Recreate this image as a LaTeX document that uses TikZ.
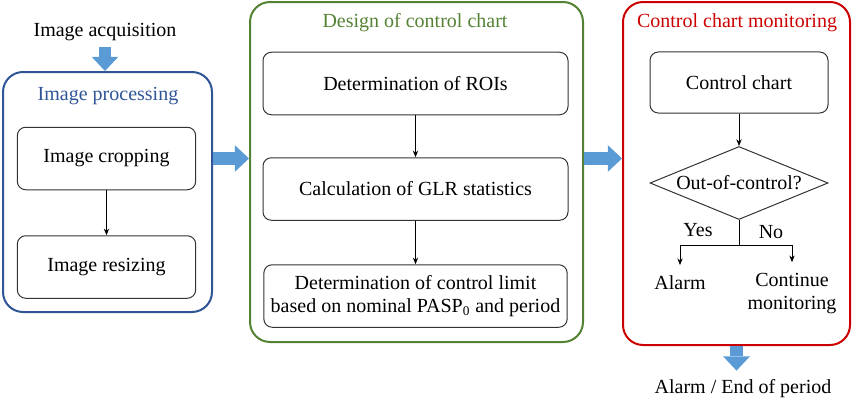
\documentclass[tikz,border=0pt]{standalone}
\usepackage{fontspec}
\setmainfont{Liberation Serif}
\usetikzlibrary{positioning,arrows.meta,shapes.geometric}

\definecolor{procblue}{RGB}{47,85,151}
\definecolor{designgreen}{RGB}{84,130,53}
\definecolor{monred}{RGB}{204,0,0}
\definecolor{fatblue}{RGB}{91,155,213}

\begin{document}
\begin{tikzpicture}[
    x=0.6pt, y=-0.6pt,
    every node/.style={font=\fontsize{12}{14}\selectfont, align=center},
    frame/.style={draw, line width=1.2pt, rounded corners=12pt, inner sep=0pt},
    stepbox/.style={draw=black!80, line width=0.6pt, rounded corners=5pt, minimum height=37.5pt},
    decision/.style={diamond, draw=black!80, line width=0.6pt, aspect=2.4, inner sep=1pt,
        minimum width=106.8pt, minimum height=43.8pt},
    flow/.style={line width=0.6pt, -{Stealth[length=4pt,width=3.2pt]}},
    fat/.style={draw=fatblue, line width=7.6pt, -{Triangle[length=8.5pt,width=16pt,line width=0pt]}}
]
\useasboundingbox (0,0) rectangle (853,402);

% Image acquisition
\node (acq) at (105,32) {Image acquisition};

% Image processing
\node[frame, draw=procblue, minimum width=125.4pt, minimum height=144pt] (proc) at (107.5,192) {};
\node[text=procblue] (proctitle) at (108,96) {Image processing};
\node[stepbox, minimum width=107pt] (crop) at (106.5,158.5) {Image cropping};
\node[stepbox, minimum width=107pt] (resize) at (106.5,267) {Image resizing};

% Design of control chart
\node[frame, draw=designgreen, minimum width=199.8pt, minimum height=204pt] (design) at (416.5,172) {};
\node[text=designgreen] (designtitle) at (415,23) {Design of control chart};
\node[stepbox, minimum width=183pt] (roi) at (415.5,83.5) {Determination of ROIs};
\node[stepbox, minimum width=183pt] (glr) at (415.5,189) {Calculation of GLR statistics};
\node[stepbox, minimum width=182pt] (limit) at (415.5,296)
{Determination of control limit\\based on nominal PASP\textsubscript{0} and period};

% Control chart monitoring
\node[frame, draw=monred, minimum width=136.2pt, minimum height=205.8pt] (mon) at (736.5,173.5) {};
\node[text=monred] (montitle) at (737,23) {Control chart monitoring};
\node[stepbox, minimum width=106.8pt, minimum height=36.6pt] (chart) at (739,82.5) {Control chart};
\node[decision] (ooc) at (739,183) {Out-of-control?};
\coordinate (split) at (739,245);
\node (yeslabel) at (698,230) {Yes};
\node (nolabel) at (771,232) {No};
\node (alarm) at (680,283) {Alarm};
\node (cont) at (792,293.5) {Continue\\monitoring};

% Output
\node (end) at (743,389) {Alarm / End of period};

% Arrows
\draw[flow] (crop) -- (resize);
\draw[flow] (roi) -- (glr);
\draw[flow] (glr) -- (limit);
\draw[flow] (chart) -- (ooc);
\draw[line width=0.6pt] (ooc.south) -- (split);
\draw[flow, shorten >=3pt] (split) -| (alarm.north);
\draw[flow, shorten >=3pt] (split) -| (cont.north);

% Block arrows
\draw[fat] (acq.south) -- (acq.south |- proc.north);
\draw[fat] (proc.east |- crop.center) -- (design.west |- crop.center);
\draw[fat] (design.east |- crop.center) -- (mon.west |- crop.center);
\draw[fat, shorten >=2pt] (mon.south) -- (mon.south |- end.north);

\end{tikzpicture}
\end{document}
